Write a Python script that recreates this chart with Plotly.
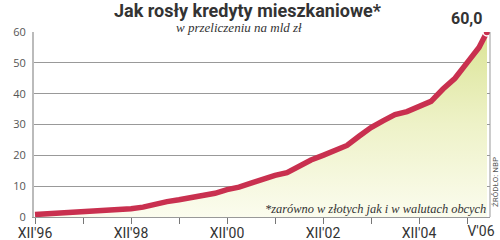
import plotly.graph_objects as go

# months since XII'96
months = [0, 3, 6, 9, 12, 15, 18, 21, 24, 27, 30, 33, 36, 39, 42, 45, 48, 51, 54, 57,
          60, 63, 66, 69, 72, 75, 78, 81, 84, 87, 90, 93, 96, 99, 102, 105, 108, 111, 113]
values = [0.8, 1.0, 1.2, 1.4, 1.6, 1.9, 2.1, 2.4, 2.7, 3.2, 4.3, 5.0, 5.6, 6.2, 6.9, 7.7,
          8.9, 9.7, 11.0, 12.3, 13.5, 14.4, 16.5, 18.5, 20.0, 21.5, 23.2, 26.2, 29.0, 31.2,
          33.2, 34.2, 35.7, 37.5, 41.5, 45.0, 50.0, 55.0, 60.0]
tick_months = [0, 24, 48, 72, 96]
tick_labels = ["XII'96", "XII'98", "XII'00", "XII'02", "XII'04"]
last_month = [113]
last_label = ["V'06"]
y_ticks = [0, 10, 20, 30, 40, 50, 60]

x_range = [-0.25, 113.75]

fig = go.Figure()
fig.add_trace(go.Scatter(
    x=months, y=values, mode="lines",
    line=dict(color="#c9304f", width=5.5),
    fill="tozeroy",
    fillgradient=dict(type="vertical",
                      colorscale=[[0, "#fbfcee"], [0.5, "#eef2c8"], [1, "#dbe496"]]),
    hoverinfo="skip", showlegend=False,
))
fig.add_trace(go.Scatter(
    x=[months[-1]], y=[values[-1]], mode="markers", xaxis="x2",
    marker=dict(color="#c9304f", size=8, line=dict(color="white", width=1.5)),
    showlegend=False, hoverinfo="skip",
))

tickfont = dict(family="Roboto", size=14, color="#333")
fig.update_layout(
    width=500, height=240,
    margin=dict(l=34, r=10, t=32, b=23),
    paper_bgcolor="white", plot_bgcolor="white",
    xaxis=dict(
        range=x_range, tickvals=tick_months, ticktext=tick_labels,
        ticks="", showgrid=False, zeroline=False, automargin=False,
        showline=True, linecolor="#999", linewidth=1,
        ticklabelstandoff=3, tickfont=tickfont,
        minor=dict(tickvals=[0, 12, 24, 36, 48, 60, 72, 84, 96, 108],
                   ticks="outside", ticklen=6, tickcolor="#777", tickwidth=1),
    ),
    xaxis2=dict(
        range=x_range, overlaying="x", anchor="y", side="bottom",
        tickvals=last_month, ticktext=last_label, ticks="",
        showgrid=False, zeroline=False, showline=False, automargin=False,
        ticklabelstandoff=4, ticklabelshift=-6, ticklabeloverflow="allow",
        tickfont=tickfont,
    ),
    yaxis=dict(
        range=[0, 60], tickvals=y_ticks, showgrid=True, gridcolor="#999", gridwidth=1,
        zeroline=False, showline=True, linecolor="#bbb", linewidth=2,
        ticks="", ticklabelstandoff=4, automargin=False,
        tickfont=dict(family="Open Sans", size=11, color="#555"),
    ),
    shapes=[dict(type="line", xref="paper", yref="paper", x0=1, x1=1, y0=0, y1=1,
                 line=dict(color="#999", width=1))],
)

pl, pr, pt, pb = 34, 490, 32, 217
def px(x):
    return (x - pl) / (pr - pl)
def py(y):
    return (pb - y) / (pb - pt)

anns = [
    dict(text="<b>Jak rosły kredyty mieszkaniowe*</b>", x=px(248), y=py(10),
         font=dict(family="Roboto", size=18, color="#333")),
    dict(text="<i>w przeliczeniu na mld zł</i>", x=px(239), y=py(27),
         font=dict(family="Liberation Serif", size=13, color="#333")),
    dict(text="<b>60,0</b>", x=px(484), y=py(18), xanchor="right",
         font=dict(family="Roboto", size=16, color="#333")),
    dict(text="<i>*zarówno w złotych jak i w walutach obcych</i>", x=px(488), y=py(209),
         xanchor="right", font=dict(family="Liberation Serif", size=12.4, color="#333")),
    dict(text="ŹRÓDŁO: NBP", x=px(495), y=py(182), textangle=-90,
         font=dict(family="Roboto", size=8, color="#555")),
]
for a in anns:
    a.setdefault("xanchor", "center")
    a.update(xref="paper", yref="paper", showarrow=False, yanchor="middle")
    fig.add_annotation(**a)

fig.write_html("out.html")
